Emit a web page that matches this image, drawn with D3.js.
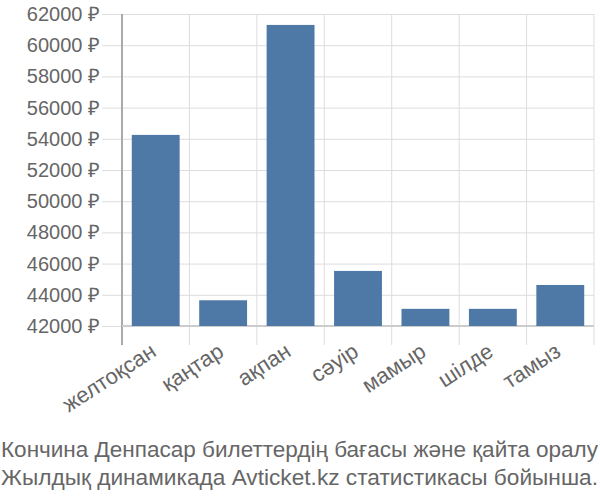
<!DOCTYPE html>
<html>
<head>
<meta charset="utf-8">
<script src="https://cdn.jsdelivr.net/npm/d3@7"></script>
<style>
  body { margin: 0; background: #fff; }
  svg text { font-family: "Liberation Sans", Arial, sans-serif; fill: #666; }
</style>
</head>
<body>
<svg id="chart" width="600" height="500"></svg>
<script>
// Data.
var months = ["желтоқсан", "қаңтар", "ақпан", "сәуір", "мамыр", "шілде", "тамыз"];
var prices = [54250, 43650, 61300, 45530, 43100, 43100, 44630];
var yTicks = [42000, 44000, 46000, 48000, 50000, 52000, 54000, 56000, 58000, 60000, 62000];
var caption = ["Кончина Денпасар билеттердің бағасы және қайта оралу",
               "Жылдық динамикада Avticket.kz статистикасы бойынша."];

var svg = d3.select("#chart");
var margin = { top: 14, right: 6, bottom: 174, left: 122 };
var width = 600 - margin.left - margin.right;
var height = 500 - margin.top - margin.bottom;

var g = svg.append("g")
  .attr("transform", "translate(" + margin.left + "," + margin.top + ")");

// paddingOuter = paddingInner / 2 keeps the band step at width / n.
var x = d3.scaleBand().domain(months).range([0, width])
  .paddingInner(0.29).paddingOuter(0.145);
var y = d3.scaleLinear().domain([42000, 62000]).range([height, 0]);

// Horizontal grid + y tick labels.
var yAxis = g.append("g")
  .attr("transform", "translate(-20,0)")
  .call(d3.axisLeft(y).tickValues(yTicks).tickSize(-width - 20).tickPadding(2)
    .tickFormat(function (d) { return d + " ₽"; }));
yAxis.select(".domain").remove();
yAxis.selectAll("line").attr("stroke", "#ddd").attr("stroke-width", 1);
yAxis.selectAll("text").style("font-size", "20px").attr("fill", "#666");

// Vertical grid lines at band edges.
var edges = months.map(function (m) { return x(m) - x.step() * x.paddingOuter(); });
edges.push(width);
g.selectAll(".vgrid")
  .data(edges)
  .enter()
  .append("line")
  .attr("x1", d => d).attr("x2", d => d)
  .attr("y1", 0).attr("y2", height + 19)
  .attr("stroke", (d, i) => i === 0 ? "#aaa" : "#ddd")
  .attr("stroke-width", (d, i) => i === 0 ? 2 : 1);

// Bottom axis line.
g.append("line")
  .attr("x1", 0).attr("x2", width)
  .attr("y1", height).attr("y2", height)
  .attr("stroke", "#ccc").attr("stroke-width", 2);

// Bars.
g.selectAll(".bar")
  .data(prices)
  .enter()
  .append("rect")
  .attr("class", "bar")
  .attr("x", (d, i) => x(months[i]))
  .attr("y", d => y(d))
  .attr("width", x.bandwidth())
  .attr("height", d => height - y(d))
  .attr("fill", "#4e79a7");

// Rotated month labels.
g.selectAll(".xlabel")
  .data(months)
  .enter()
  .append("text")
  .attr("class", "xlabel")
  .attr("transform", d => "translate(" + (x(d) + x.bandwidth() / 2 + 2) + "," + (height + 29) + ") rotate(-33)")
  .attr("text-anchor", "end")
  .style("font-size", "22px")
  .text(d => d);

// Caption.
svg.selectAll(".caption")
  .data(caption)
  .enter()
  .append("text")
  .attr("class", "caption")
  .attr("x", 1)
  .attr("y", (d, i) => 457 + i * 28)
  .attr("textLength", 597)
  .attr("lengthAdjust", "spacingAndGlyphs")
  .style("font-size", "22px")
  .text(d => d);
</script>
</body>
</html>
